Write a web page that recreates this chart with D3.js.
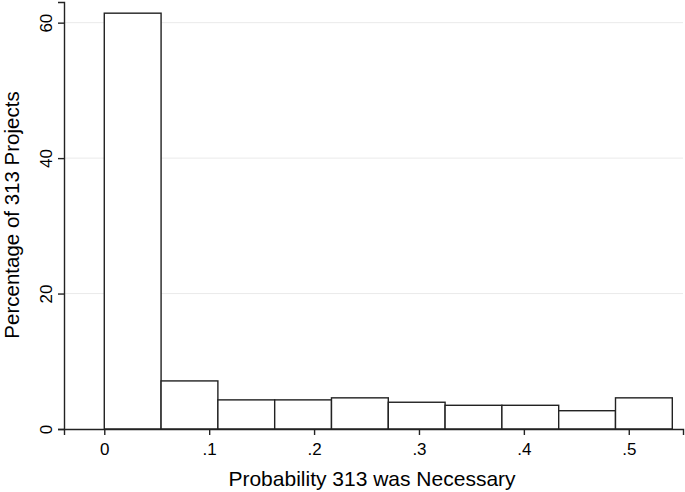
<!DOCTYPE html>
<html>
<head>
<meta charset="utf-8">
<script src="https://cdn.jsdelivr.net/npm/d3@7/dist/d3.min.js"></script>
<style>
  body { margin: 0; background: #fff; }
  svg { display: block; font-family: "Liberation Sans", Arial, sans-serif; }
  .tick text { fill: #000; }
</style>
</head>
<body>
<div class="chart"></div>
<script>
// histogram bins (probability), width of one bin
const binStarts = [0, 0.05415, 0.1083, 0.16245, 0.2166, 0.27075, 0.3249, 0.37905, 0.4332, 0.48735]
const binWidth = 0.05415
const percents = [61.4, 7.1, 4.3, 4.3, 4.6, 3.95, 3.5, 3.5, 2.7, 4.6]
const xTicks = [0, 0.1, 0.2, 0.3, 0.4, 0.5]
const xTickLabels = ['0', '.1', '.2', '.3', '.4', '.5']
const yTicks = [0, 20, 40, 60]

const width = 685, height = 492
const margin = {left: 64, right: 2, top: 2, bottom: 63}

const svg = d3.select('.chart')
.append('svg')
.attr('width', width)
.attr('height', height)

let x = d3.scaleLinear()
.domain([-0.0384, 0.5517])
.range([margin.left, width - margin.right])

let y = d3.scaleLinear()
.domain([0, 63.05])
.range([height - margin.bottom, margin.top])

// gridlines
svg.append('g')
.selectAll('line')
.data(yTicks.filter(d => d > 0))
.enter()
.append('line')
.attr('x1', margin.left)
.attr('x2', width - margin.right)
.attr('y1', d => y(d))
.attr('y2', d => y(d))
.attr('stroke', '#eaeaea')
.attr('stroke-width', 1)

// bars
svg.append('g')
.selectAll('rect')
.data(percents)
.enter()
.append('rect')
.attr('x', (d, i) => x(binStarts[i]))
.attr('width', (d, i) => x(binStarts[i] + binWidth) - x(binStarts[i]))
.attr('y', d => y(d))
.attr('height', d => y(0) - y(d))
.attr('fill', '#fff')
.attr('stroke', '#222')
.attr('stroke-width', 1.4)

// y axis
const yAxis = svg.append('g')
.attr('transform', `translate(${margin.left},0)`)
.call(d3.axisLeft(y).tickValues(yTicks).tickSize(6).tickPadding(5).tickFormat(d3.format('d')))

yAxis.selectAll('.tick text')
.attr('transform', 'rotate(-90)')
.attr('text-anchor', 'middle')
.attr('x', 0)
.attr('dx', 0)
.attr('dy', 0)
.attr('y', -12)
.style('font-size', '17px')

// x axis
const xAxis = svg.append('g')
.attr('transform', `translate(0,${y(0)})`)
.call(d3.axisBottom(x).tickValues(xTicks).tickSize(6).tickPadding(8).tickFormat((d, i) => xTickLabels[i]))

xAxis.selectAll('.tick text').style('font-size', '17px')

svg.selectAll('.domain, .tick line')
.attr('stroke', '#222')
.attr('stroke-width', 1.4)

// axis titles
svg.append('text')
.attr('x', 372)
.attr('y', 486)
.attr('text-anchor', 'middle')
.style('font-size', '21px')
.text('Probability 313 was Necessary')

svg.append('text')
.attr('transform', `translate(19,215) rotate(-90)`)
.attr('text-anchor', 'middle')
.style('font-size', '20.5px')
.text('Percentage of 313 Projects')
</script>
</body>
</html>
